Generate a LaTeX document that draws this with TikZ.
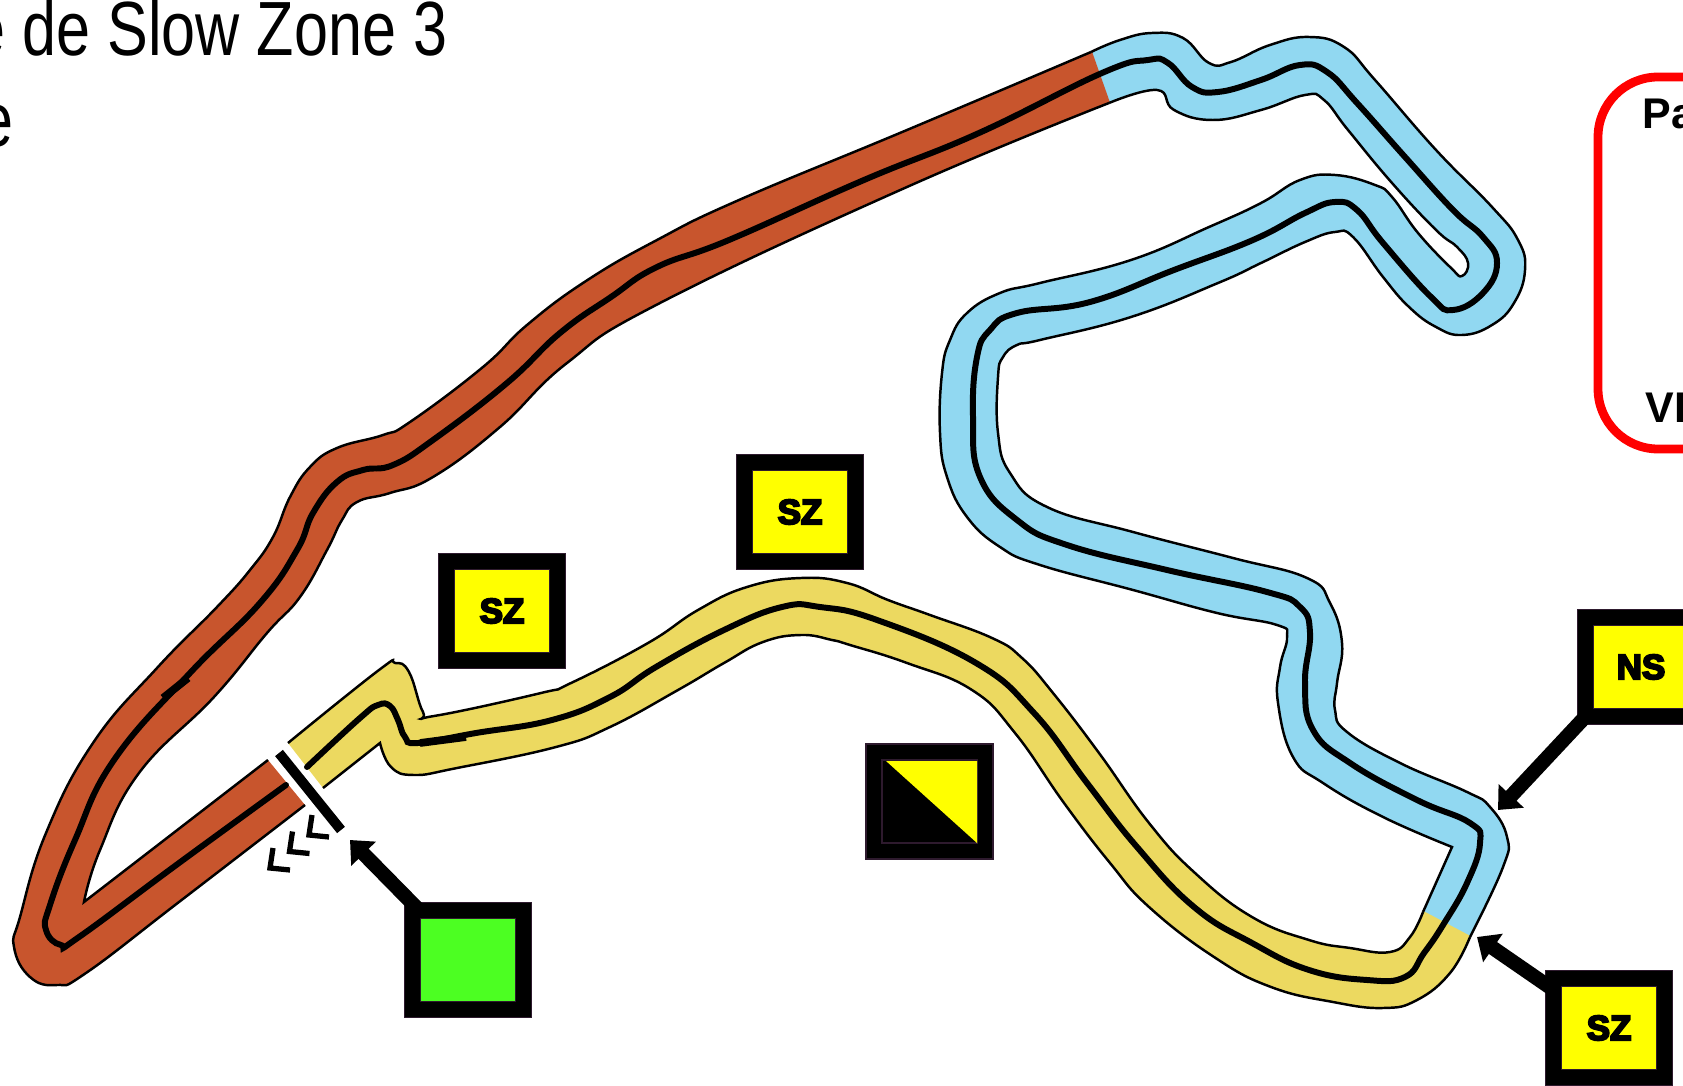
\documentclass[tikz,border=0pt]{standalone}
\usepackage{fontspec}
\setmainfont{Liberation Sans}
\newfontfamily\titlefont[FakeStretch=0.795]{Liberation Sans}
\newfontfamily\flagfont[FakeBold=6]{Liberation Sans Bold}
\usepackage{xcolor}
\usetikzlibrary{arrows.meta}
\definecolor{sectorbrown}{RGB}{200,85,45}
\definecolor{sectorblue}{RGB}{145,216,241}
\definecolor{sectoryellow}{RGB}{236,217,96}
\definecolor{flaggreen}{RGB}{76,255,34}
\definecolor{flagyellow}{RGB}{255,255,0}
\definecolor{flagedge}{RGB}{46,26,46}
\definecolor{legendred}{RGB}{255,0,0}
% edges of the three sectors, in reference pixels
\newcommand{\brownouter}{--plot[smooth,tension=0.75] coordinates {(1091,52) (907,130) (739,200) (657,240) (586,281) (527,325) (483,367) (410,422) (383,435) (337,448) (310,467) (290,497) (273,537) (250,570) (217,607) (157,668) (93,743) (46,833) (20,917) (14,947) (30,977) (57,985) (86,973) (179,902) (305,805)}}
\newcommand{\browninner}{--plot[smooth,tension=0.75] coordinates {(84,902) (100,850) (139,773) (214,697) (267,633) (300,597) (327,550) (342,520) (357,502) (390,493) (433,477) (500,427) (567,363) (660,303) (907,187) (1109,103)}}
\newcommand{\blueouter}{--plot[smooth,tension=0.75] coordinates {(1091,52) (1120,40) (1152,33) (1183,38) (1209,63) (1231,62) (1270,45) (1309,37) (1344,47) (1375,80) (1436,150) (1492,207) (1518,240) (1525,270) (1514,303) (1492,325) (1462,335) (1436,327) (1409,307) (1383,277) (1353,237) (1335,232) (1305,242) (1261,263) (1218,283) (1131,317) (1040,340) (1017,345) (1003,357) (998,377) (998,433) (1010,473) (1047,507) (1133,532) (1233,558) (1307,578) (1330,603) (1342,643) (1337,683) (1335,710) (1347,732) (1400,763) (1467,792) (1490,807) (1507,837) (1503,867) (1470,937)}}
\newcommand{\blueinner}{--plot[smooth,tension=0.75] coordinates {(1452,847) (1383,817) (1323,783) (1293,757) (1278,703) (1280,667) (1287,637) (1277,625) (1217,613) (1133,590) (1040,565) (1000,547) (967,517) (947,477) (940,433) (942,373) (950,340) (967,313) (1000,293) (1040,283) (1131,260) (1209,227) (1261,203) (1300,180) (1335,175) (1375,185) (1392,197) (1418,233) (1451,268) (1462,276) (1468,263) (1457,247) (1436,230) (1392,183) (1348,130) (1324,100) (1305,95) (1261,110) (1213,120) (1174,110) (1157,90) (1109,103)}}
\newcommand{\yellowouter}{--plot[smooth,tension=0.75] coordinates {(1470,937) (1450,973) (1417,1000) (1383,1008) (1333,1002) (1271,987) (1214,957) (1149,907) (1110,863) (1064,803) (1015,733) (972,690) (907,663) (850,645) (832,640) (801,635) (763,642) (724,663) (678,690) (610,727) (556,747) (457,768) (414,775) (391,767) (380,743)}}
\newcommand{\yellowinner}{--plot[smooth,tension=0.75] coordinates {(288,743) (379,670) (395,663) (409,672) (423,712) (434,716) (541,693) (571,683) (648,643) (698,610) (747,587) (801,578) (847,583) (888,600) (930,615) (992,638) (1022,658) (1053,693) (1099,753) (1149,823) (1195,873) (1252,917) (1309,940) (1350,948) (1390,952) (1410,937) (1423,912)}}

\begin{document}
\begin{tikzpicture}[
    x=0.01cm, y=-0.01cm,
    trackedge/.style={draw=black, line width=0.7pt},
    racingline/.style={draw=black, line width=1.7pt, line cap=round},
    chevron/.style={draw=black, line width=1.5pt},
    flagbox/.style={draw=flagedge, double=black, double distance=4.1pt, line width=0.4pt,
      minimum width=1.11cm, minimum height=0.99cm, inner sep=0pt, outer sep=0pt},
    flagarrow/.style={line width=4.1pt, -{Triangle[length=5.5pt,width=9.5pt]}},
    flagtext/.style={font=\flagfont\fontsize{9.9}{10}\selectfont},
  ]
  \useasboundingbox (0,0) rectangle (1683,1086);

  % Title, cut by the page
  \node[anchor=base west, inner sep=0pt, font=\titlefont\fontsize{21.85}{24}\selectfont]
    (titleone) at (-29,56) {e de Slow Zone 3};
  \node[anchor=base west, inner sep=0pt, font=\titlefont\fontsize{21.85}{24}\selectfont]
    (titletwo) at (-21,147) {e};

  % Sector fills
  \fill[sectorbrown] (1091,52) \brownouter -- (268,760) -- (84,902) \browninner -- cycle;
  \fill[sectorblue] (1091,52) \blueouter -- (1423,912) -- (1452,847) \blueinner -- cycle;
  \fill[sectoryellow] (1470,937) \yellowouter -- (323,788) -- (288,743) \yellowinner -- cycle;
  \draw[sectorbrown, line width=0.6pt] (1091,52) -- (1109,103);
  \draw[sectoryellow, line width=0.6pt] (1470,937) -- (1423,912);

  % Sector edges
  \draw[trackedge] (1091,52) \brownouter;
  \draw[trackedge] (268,760) -- (84,902) \browninner;
  \draw[trackedge] (1091,52) \blueouter;
  \draw[trackedge] (1423,912) -- (1452,847) \blueinner;
  \draw[trackedge] (1470,937) \yellowouter -- (323,788);
  \draw[trackedge] (288,743) \yellowinner;

  % Racing line
  \draw[racingline] plot[smooth,tension=0.75] coordinates {(307,767) (360,718) (378,705) (390,706)
    (398,720) (405,737) (418,743) (476,733) (552,720) (610,697) (656,667) (724,630) (782,607) (820,607)
    (877,620) (976,663) (1034,713) (1087,783) (1137,847) (1194,907) (1252,943) (1309,970)
    (1367,980) (1405,977) (1424,953) (1443,925) (1467,883) (1480,843) (1470,823) (1417,800)
    (1350,763) (1313,730) (1305,683) (1310,633) (1300,607) (1267,592) (1167,570) (1067,545)
    (1017,520) (980,477) (973,417) (977,357) (990,330) (1017,313) (1090,302) (1174,270)
    (1253,240) (1305,213) (1335,202) (1357,210) (1383,243) (1431,297) (1453,310) (1483,293)
    (1497,263) (1483,237) (1453,210) (1405,157) (1357,103) (1327,72) (1300,65) (1261,80)
    (1218,92) (1192,87) (1168,63) (1148,60) (1102,73) (979,133) (864,180) (729,240) (657,267)
    (611,297) (560,333) (507,383) (433,440) (393,465) (363,470) (337,482) (313,513) (297,550)
    (260,603) (190,673) (114,760) (75,840) (50,905) (46,930) (61,945) (79,937) (179,863) (286,785)};
  \draw[line width=2.2pt] (163,698) -- (188,678);
  \draw[line width=2.2pt] (420,743) -- (466,737);

  % Start line and chevrons
  \draw[line width=2.85pt] (279,753) -- (341,830);
  \foreach \k in {0,1,2} {
    \draw[chevron, shift={(-19.5*\k,16.5*\k)}] (312,815) -- (309,835) -- (329,837);
  }

  % Flags
  \node[flagbox, fill=flagyellow, flagtext] (szone) at (502,611) {SZ};
  \node[flagbox, fill=flagyellow, flagtext] (sztwo) at (800,512) {SZ};
  \node[flagbox, fill=flagyellow, flagtext] (szthree) at (1609,1028) {SZ};
  \node[flagbox, fill=flagyellow, flagtext] (nsflag) at (1641,667) {NS};
  \node[flagbox, fill=flaggreen] (greenflag) at (468,960) {};
  \node[flagbox, fill=black] (diagflag) at (929.5,801.5) {};
  \fill[flagyellow] (886,761) -- (977,761) -- (977,843) -- cycle;

  % Arrows
  \coordinate (greentip) at (350,840);
  \coordinate (nstip) at (1498,810);
  \coordinate (sztip) at (1477,937);
  \draw[flagarrow] (greenflag) -- (greentip);
  \draw[flagarrow] (nsflag.south west) -- (nstip);
  \draw[flagarrow] (szthree) -- (sztip);

  % Legend box, cut by the page
  \draw[legendred, line width=2.5pt, rounded corners=0.6cm] (1598,77) rectangle (1780,449);
  \node[anchor=base west, inner sep=0pt, font=\bfseries\fontsize{12.2}{13}\selectfont]
    (legendpa) at (1642,129) {Pa};
  \node[anchor=base west, inner sep=0pt, font=\bfseries\fontsize{12.2}{13}\selectfont]
    (legendvi) at (1645,423) {VI};
\end{tikzpicture}
\end{document}
